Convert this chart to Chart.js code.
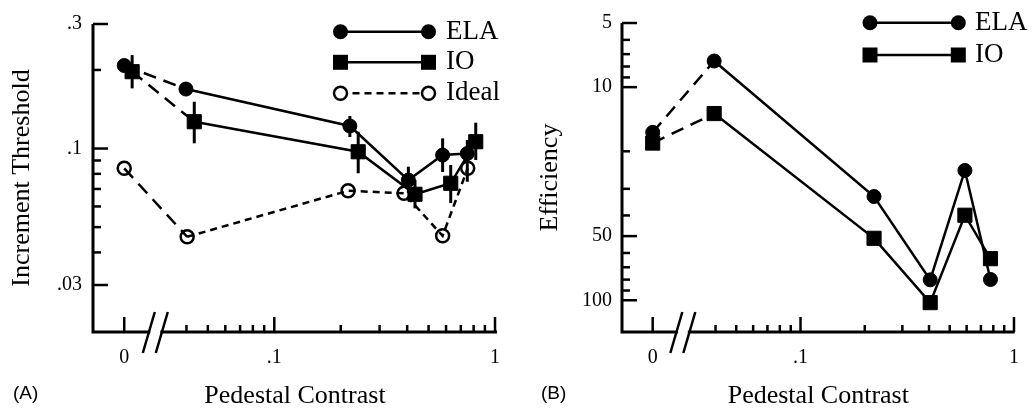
<!DOCTYPE html>
<html>
<head>
<meta charset="utf-8">
<script src="https://cdn.jsdelivr.net/npm/chart.js@4.4.0/dist/chart.umd.min.js"></script>
<style>
  html, body { margin: 0; padding: 0; background: #fff; }
  #wrap { position: relative; width: 1033px; height: 409px; }
  .panel { position: absolute; top: 0; height: 409px; }
  #panelA { left: 0; width: 520px; }
  #panelB { left: 520px; width: 513px; }
  .tag { position: absolute; top: 383px; font: 19px "Liberation Sans", Arial, sans-serif; line-height: 20px; }
</style>
</head>
<body>
<div id="wrap">
  <div class="panel" id="panelA"><canvas id="chartA"></canvas></div>
  <div class="panel" id="panelB"><canvas id="chartB"></canvas></div>
  <div class="tag" style="left:13px">(A)</div>
  <div class="tag" style="left:541px">(B)</div>
</div>
<script>
// pedestal contrast 0 is plotted left of the axis break
const ZERO_A = 0.0209;
const ZERO_B = 0.0203;
const BREAK_A = 0.0289;
const BREAK_B = 0.0281;

// (A) increment thresholds
const contrastElaA = [ZERO_A, 0.0398, 0.220, 0.405, 0.579, 0.749];
const contrastIoA = [0.0227, 0.0434, 0.240, 0.434, 0.630, 0.818];
const contrastIdealA = [ZERO_A, 0.0403, 0.216, 0.387, 0.579, 0.752];
const elaA = [0.208, 0.169, 0.122, 0.0757, 0.0944, 0.0957];
const elaLoA = [null, null, 0.1107, 0.0676, 0.0813, 0.0746];
const elaHiA = [null, null, 0.1332, 0.0852, 0.1094, 0.1078];
const ioA = [0.197, 0.1267, 0.0972, 0.0668, 0.0736, 0.1062];
const ioLoA = [0.170, 0.1047, 0.0804, 0.0590, 0.0618, 0.0904];
const ioHiA = [0.228, 0.1511, 0.1160, 0.0757, 0.0865, 0.1256];
const idealA = [0.0840, 0.0459, 0.0689, 0.0674, 0.0463, 0.0840];

// (B) efficiency
const contrastB = [ZERO_B, 0.0394, 0.221, 0.405, 0.589, 0.776];
const elaB = [16.3, 7.54, 32.6, 80.2, 24.6, 79.9];
const ioB = [18.3, 13.3, 51.2, 102.6, 39.9, 63.8];

// ticks
const xMinor = [0.04, 0.05, 0.06, 0.07, 0.08, 0.09, 0.2, 0.3, 0.4, 0.5, 0.6, 0.7, 0.8, 0.9];
const xLabels = ['0', '.1', '1'];
const yMinorA = [0.04, 0.05, 0.06, 0.07, 0.08, 0.09, 0.2];
const yMajorA = [0.03, 0.1, 0.3];
const yLabelsA = ['.03', '.1', '.3'];
const yMinorB = [6, 7, 8, 9, 20, 30, 40, 60, 70, 80, 90];
const yMajorB = [5, 10, 50, 100];
const yLabelsB = ['5', '10', '50', '100'];

const SERIF = '"Liberation Serif", "Times New Roman", serif';
const DASH_LONG = [13, 8];
const DASH_SHORT = [7, 5];

function pts(xs, ys) {
  return xs.map((x, i) => ({ x: x, y: ys[i] }));
}

function tickSet(minor, major, labels) {
  const all = minor.concat(major).sort((a, b) => a - b);
  return {
    build: s => { s.ticks = all.map(v => ({ value: v })); },
    label: v => { const i = major.indexOf(v); return i >= 0 ? labels[i] : ''; }
  };
}

function series(data, style, dashRest) {
  const ring = style === 'ring';
  return {
    data: data,
    showLine: true,
    borderColor: '#000',
    borderWidth: 2.5,
    pointStyle: style === 'rect' ? 'rect' : 'circle',
    pointRadius: style === 'rect' ? 10 : (ring ? 6.5 : 7),
    pointBorderWidth: ring ? 2.5 : 1,
    pointBackgroundColor: ring ? 'rgba(0,0,0,0)' : '#000',
    pointBorderColor: '#000',
    clip: false,
    segment: {
      borderDash: ctx => ctx.p0DataIndex === 0 ? DASH_LONG : dashRest
    }
  };
}

const axisDeco = {
  id: 'axisDeco',
  beforeDatasetsDraw(chart, args, o) {
    const { ctx, chartArea: a, scales: { x, y } } = chart;
    ctx.save();
    ctx.strokeStyle = '#000';
    ctx.lineWidth = 3;
    ctx.beginPath();
    ctx.moveTo(a.left, a.top);
    ctx.lineTo(a.left, a.bottom + 1.5);
    ctx.moveTo(a.left - 1.5, a.bottom);
    ctx.lineTo(a.right, a.bottom);
    ctx.stroke();
    ctx.lineWidth = 2.5;
    x.ticks.forEach(t => {
      const px = x.getPixelForValue(t.value);
      const len = o.xMajor.includes(t.value) ? 15 : 7;
      ctx.beginPath();
      ctx.moveTo(px, a.bottom);
      ctx.lineTo(px, a.bottom - len);
      ctx.stroke();
    });
    y.ticks.forEach(t => {
      const py = y.getPixelForValue(t.value);
      const len = o.yMajor.includes(t.value) ? 15 : 8;
      ctx.beginPath();
      ctx.moveTo(a.left, py);
      ctx.lineTo(a.left + len, py);
      ctx.stroke();
    });
    // broken axis marker
    const bx = x.getPixelForValue(o.breakAt);
    ctx.fillStyle = '#fff';
    ctx.fillRect(bx - 5, a.bottom - 2, 10, 4);
    [-6.5, 6.5].forEach(d => {
      ctx.beginPath();
      ctx.moveTo(bx + d - 6, a.bottom + 21);
      ctx.lineTo(bx + d + 6, a.bottom - 20);
      ctx.stroke();
    });
    ctx.restore();
  }
};

const errorBars = {
  id: 'errorBars',
  beforeDatasetsDraw(chart) {
    const { ctx, scales: { x, y } } = chart;
    ctx.save();
    ctx.strokeStyle = '#000';
    ctx.lineWidth = 3;
    chart.data.datasets.forEach(ds => {
      if (!ds.errLo) return;
      ds.data.forEach((p, i) => {
        if (ds.errLo[i] == null) return;
        const px = x.getPixelForValue(p.x);
        ctx.beginPath();
        ctx.moveTo(px, y.getPixelForValue(ds.errLo[i]));
        ctx.lineTo(px, y.getPixelForValue(ds.errHi[i]));
        ctx.stroke();
      });
    });
    ctx.restore();
  }
};

const keyBox = {
  id: 'keyBox',
  afterDraw(chart, args, o) {
    const ctx = chart.ctx;
    ctx.save();
    ctx.strokeStyle = '#000';
    ctx.fillStyle = '#000';
    o.items.forEach((it, i) => {
      const yy = o.ys[i];
      ctx.lineWidth = 2.5;
      ctx.setLineDash(it.dash);
      ctx.beginPath();
      ctx.moveTo(o.x0, yy);
      ctx.lineTo(o.x1, yy);
      ctx.stroke();
      ctx.setLineDash([]);
      [o.x0, o.x1].forEach(cx => {
        if (it.style === 'rect') {
          ctx.fillRect(cx - 7.5, yy - 7.5, 15, 15);
        } else if (it.style === 'ring') {
          ctx.fillStyle = '#fff';
          ctx.beginPath();
          ctx.arc(cx, yy, 6.5, 0, Math.PI * 2);
          ctx.fill();
          ctx.fillStyle = '#000';
          ctx.stroke();
        } else {
          ctx.beginPath();
          ctx.arc(cx, yy, 7.5, 0, Math.PI * 2);
          ctx.fill();
        }
      });
      ctx.font = '27px ' + SERIF;
      ctx.textBaseline = 'middle';
      ctx.textAlign = 'left';
      ctx.fillText(it.label, o.textX, yy);
    });
    ctx.restore();
  }
};

function makeChart(id, cfg) {
  const xt = tickSet(xMinor, cfg.xMajor, xLabels);
  const yt = tickSet(cfg.yMinor, cfg.yMajor, cfg.yLabels);
  return new Chart(document.getElementById(id), {
    type: 'scatter',
    data: { datasets: cfg.datasets },
    options: {
      responsive: true,
      maintainAspectRatio: false,
      animation: false,
      events: [],
      layout: { padding: cfg.padding },
      plugins: {
        legend: { display: false },
        tooltip: { enabled: false },
        axisDeco: { xMajor: cfg.xMajor, yMajor: cfg.yMajor, breakAt: cfg.breakAt },
        keyBox: cfg.key
      },
      scales: {
        x: {
          type: 'logarithmic',
          position: 'bottom',
          min: cfg.xMin,
          max: cfg.xMax,
          grid: { display: false, drawTicks: false },
          border: { display: false },
          afterBuildTicks: xt.build,
          afterFit: s => { s.height = 77; },
          ticks: {
            autoSkip: false, minRotation: 0, maxRotation: 0, padding: 14,
            color: '#000', font: { family: SERIF, size: 20 },
            callback: xt.label
          },
          title: {
            display: true, text: 'Pedestal Contrast', color: '#000',
            font: { family: SERIF, size: 26, lineHeight: 1 },
            padding: { top: 0, bottom: 0 }
          }
        },
        y: {
          type: 'logarithmic',
          position: 'left',
          reverse: cfg.reverse,
          min: cfg.yMin,
          max: cfg.yMax,
          grid: { display: false, drawTicks: false },
          border: { display: false },
          afterBuildTicks: yt.build,
          afterFit: s => { s.width = cfg.yWidth; },
          ticks: {
            autoSkip: false, padding: cfg.yPad,
            color: '#000', font: { family: SERIF, size: 20 },
            callback: yt.label
          },
          title: {
            display: true, text: cfg.yTitle, color: '#000',
            font: { family: SERIF, size: 26, lineHeight: 1 },
            padding: { top: cfg.titlePad, bottom: 0 }
          }
        }
      }
    },
    plugins: [axisDeco, errorBars, keyBox]
  });
}

const ioSetA = series(pts(contrastIoA, ioA), 'rect', undefined);
ioSetA.errLo = ioLoA;
ioSetA.errHi = ioHiA;
const elaSetA = series(pts(contrastElaA, elaA), 'circle', undefined);
elaSetA.errLo = elaLoA;
elaSetA.errHi = elaHiA;
const idealSetA = series(pts(contrastIdealA, idealA), 'ring', DASH_SHORT);

makeChart('chartA', {
  datasets: [ioSetA, elaSetA, idealSetA],
  padding: { left: 0, top: 24, right: 23, bottom: 0 },
  xMin: 0.01509, xMax: 1.021,
  yMin: 0.01982, yMax: 0.3, reverse: false,
  xMajor: [ZERO_A, 0.1, 1],
  yMinor: yMinorA, yMajor: yMajorA, yLabels: yLabelsA,
  yWidth: 93, yPad: 11, titlePad: 9,
  yTitle: 'Increment Threshold',
  breakAt: BREAK_A,
  key: {
    x0: 340.5, x1: 428.5, textX: 446, ys: [31.7, 62.3, 93.3],
    items: [
      { label: 'ELA', style: 'circle', dash: [] },
      { label: 'IO', style: 'rect', dash: [] },
      { label: 'Ideal', style: 'ring', dash: DASH_SHORT }
    ]
  }
});

makeChart('chartB', {
  datasets: [series(pts(contrastB, ioB), 'rect', undefined), series(pts(contrastB, elaB), 'circle', undefined)],
  padding: { left: 0, top: 23, right: 10, bottom: 0 },
  xMin: 0.01458, xMax: 1.0074,
  yMin: 5, yMax: 140.9, reverse: true,
  xMajor: [ZERO_B, 0.1, 1],
  yMinor: yMinorB, yMajor: yMajorB, yLabels: yLabelsB,
  yWidth: 102, yPad: 10, titlePad: 17,
  yTitle: 'Efficiency',
  breakAt: BREAK_B,
  key: {
    x0: 350, x1: 438.3, textX: 455, ys: [22.7, 55],
    items: [
      { label: 'ELA', style: 'circle', dash: [] },
      { label: 'IO', style: 'rect', dash: [] }
    ]
  }
});
</script>
</body>
</html>
